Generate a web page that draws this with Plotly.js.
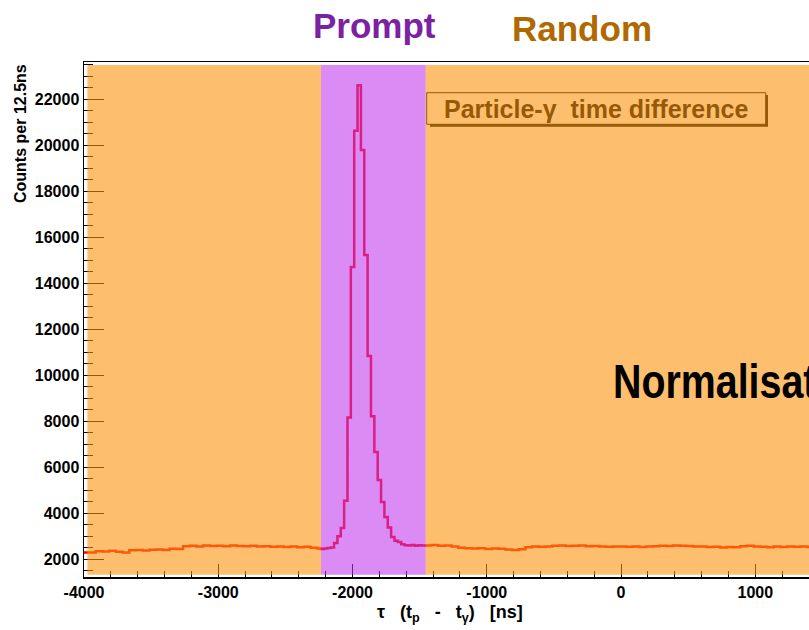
<!DOCTYPE html>
<html>
<head>
<meta charset="utf-8">
<script src="https://cdn.plot.ly/plotly-3.0.1.min.js"></script>
<style>
html,body{margin:0;padding:0;background:#fff;}
#chart{width:809px;height:630px;}
</style>
</head>
<body>
<div id="chart"></div>
<script>
// ---- data (counts per bin) ----
const bgLeftStart = -4012.5;      // ns, left edge of first background bin
const bgBinWidth = 50;            // ns
const bgLeftCounts = [2300, 2290, 2350, 2340, 2370, 2330, 2300, 2390, 2400, 2380,
  2410, 2420, 2400, 2460, 2450, 2570, 2590, 2560, 2600, 2580,
  2590, 2570, 2600, 2580, 2570, 2590, 2560, 2570, 2540, 2560,
  2530, 2550, 2520, 2540, 2500];

const promptStart = -2262.5;      // ns
const promptBinWidth = 25;        // ns
const promptCounts = [2470, 2450, 2470, 2490, 2510, 2710, 3000, 3360, 4540, 8160,
  14700, 20620, 22600, 19790, 15220, 10830, 8220, 6660, 5440, 4490,
  3840, 3380, 2970, 2800, 2750, 2650, 2610, 2600, 2620, 2590, 2610, 2600];

const bgRightStart = -1462.5;     // ns
const bgRightCounts = [2600, 2620, 2590, 2600, 2560, 2500, 2480, 2470, 2480, 2450,
  2470, 2460, 2430, 2400, 2440, 2520, 2560, 2540, 2550, 2590,
  2600, 2580, 2590, 2600, 2570, 2580, 2560, 2540, 2560, 2550,
  2540, 2560, 2530, 2550, 2570, 2590, 2580, 2600, 2590, 2580,
  2560, 2550, 2530, 2540, 2510, 2530, 2520, 2570, 2590, 2560,
  2540, 2520, 2550, 2530, 2560, 2540, 2550, 2530];

const xTickVals = [-4000, -3000, -2000, -1000, 0, 1000];
const xTickLabels = ['-4000', '-3000', '-2000', '-1000', '0', '1000'];
const yTickVals = [2000, 4000, 6000, 8000, 10000, 12000, 14000, 16000, 18000, 20000, 22000];
const yTickLabels = ['2000', '4000', '6000', '8000', '10000', '12000', '14000', '16000', '18000', '20000', '22000'];

const promptWindow = [-2235, -1455];     // ns
const randomWindows = [[-3975, -2235], [-1455, 1400]];
const xTitle = 'τ&nbsp;&nbsp;&nbsp;(t<sub>p</sub>&nbsp;&nbsp;&nbsp;-&nbsp;&nbsp;&nbsp;t<sub>γ</sub>)&nbsp;&nbsp;&nbsp;[ns]';
const yTitle = 'Counts per 12.5ns';
const boxTitle = 'Particle-γ  time difference';

// ---- build step histogram ----
const xs = [], ys = [];
function addBins(start, width, counts) {
  counts.forEach((c, i) => { xs.push(start + i * width); ys.push(c); });
  return start + counts.length * width;
}
addBins(bgLeftStart, bgBinWidth, bgLeftCounts);
addBins(promptStart, promptBinWidth, promptCounts);
const endEdge = addBins(bgRightStart, bgBinWidth, bgRightCounts);
xs.push(endEdge); ys.push(bgRightCounts[bgRightCounts.length - 1]);

const W = 809, H = 630, ML = 84, MR = 0, MT = 62, MB = 53;
const PW = W - ML - MR, PH = H - MT - MB;
const px = v => (v - ML) / PW;          // pixel -> paper x
const py = v => (H - MB - v) / PH;      // pixel -> paper y

const FONT = 'Liberation Sans, Arial, sans-serif';
const brown = 'rgb(151,89,7)';
const boxFill = 'rgb(253,191,109)';
const yLo = 1330, yHi = 23480;

const shapes = [];
randomWindows.forEach(w => shapes.push({type:'rect', xref:'x', yref:'y', x0:w[0], x1:w[1], y0:yLo, y1:yHi,
  fillcolor:'rgb(252,148,12)', opacity:0.6, line:{width:0}, layer:'above'}));
shapes.push({type:'rect', xref:'x', yref:'y', x0:promptWindow[0], x1:promptWindow[1], y0:yLo, y1:yHi,
  fillcolor:'rgb(190,52,235)', opacity:0.57, line:{width:0}, layer:'above'});
// title pave (shadow + box)
shapes.push({type:'rect', xref:'paper', yref:'paper', x0:px(430), x1:px(768), y0:py(126.7), y1:py(95),
  fillcolor:brown, line:{width:0}, layer:'above'});
shapes.push({type:'rect', xref:'paper', yref:'paper', x0:px(426.7), x1:px(765.7), y0:py(124.3), y1:py(92.7),
  fillcolor:boxFill, line:{width:1, color:brown}, layer:'above'});

const annotations = [
  {text:boxTitle, xref:'paper', yref:'paper', x:px(596), y:py(108.5), xanchor:'center', yanchor:'middle',
   showarrow:false, font:{family:FONT, size:25, weight:700, color:brown}},
  {text:'Prompt', xref:'paper', yref:'paper', x:px(374), y:py(25), xanchor:'center', yanchor:'middle',
   showarrow:false, font:{family:FONT, size:35, weight:700, color:'rgb(123,33,162)'}},
  {text:'Random', xref:'paper', yref:'paper', x:px(582), y:py(29), xanchor:'center', yanchor:'middle',
   showarrow:false, font:{family:FONT, size:35, weight:700, color:'rgb(175,105,0)'}},
  {text:'Normalisation', xref:'paper', yref:'paper', x:px(611), y:py(381), xanchor:'left', yanchor:'middle',
   showarrow:false, font:{family:FONT, size:48, weight:700, color:'#000'}},
  {text:yTitle, xref:'paper', yref:'paper', x:px(20), y:py(134), xanchor:'center', yanchor:'middle', textangle:-90,
   showarrow:false, font:{family:FONT, size:16, weight:700, color:'#000'}},
  {text:xTitle, xref:'paper', yref:'paper', x:px(450), y:py(613), xanchor:'center', yanchor:'middle',
   showarrow:false, font:{family:FONT, size:18, weight:700, color:'#000'}}
];

const trace = {x:xs, y:ys, type:'scatter', mode:'lines', line:{shape:'hv', color:'#ff0000', width:2.5},
  hoverinfo:'skip', showlegend:false};

const layout = {
  width:W, height:H, margin:{l:ML, r:MR, t:MT, b:MB, pad:0},
  paper_bgcolor:'#fff', plot_bgcolor:'#fff', showlegend:false,
  xaxis:{range:[-4000, 1400], tickmode:'array', tickvals:xTickVals, ticktext:xTickLabels,
    ticks:'inside', ticklen:13, tickwidth:1, tickcolor:'#000',
    minor:{tickmode:'linear', tick0:0, dtick:200, ticks:'inside', ticklen:6, tickwidth:1, tickcolor:'#000', showgrid:false},
    showline:true, linecolor:'#000', linewidth:1.5, mirror:true, showgrid:false, zeroline:false,
    tickfont:{family:FONT, size:16, weight:700, color:'#000'}, fixedrange:true},
  yaxis:{range:[1230, 23609], tickmode:'array', tickvals:yTickVals, ticktext:yTickLabels,
    ticks:'inside', ticklen:20, tickwidth:1, tickcolor:'#000',
    minor:{tickmode:'linear', tick0:0, dtick:500, ticks:'inside', ticklen:9, tickwidth:1, tickcolor:'#000', showgrid:false},
    showline:true, linecolor:'#000', linewidth:1.5, mirror:false, showgrid:false, zeroline:false,
    tickfont:{family:FONT, size:16, weight:700, color:'#000'}, fixedrange:true},
  shapes:shapes, annotations:annotations
};

function condense() {
  document.querySelectorAll('#chart .annotation-text').forEach(t => {
    if (t.textContent.indexOf('Normalisation') === 0) {
      t.style.transformBox = 'fill-box';
      t.style.transformOrigin = 'left center';
      t.style.transform = 'scaleX(0.82)';
    }
  });
}
Plotly.newPlot('chart', [trace], layout, {staticPlot:true, displayModeBar:false}).then(condense);
</script>
</body>
</html>
